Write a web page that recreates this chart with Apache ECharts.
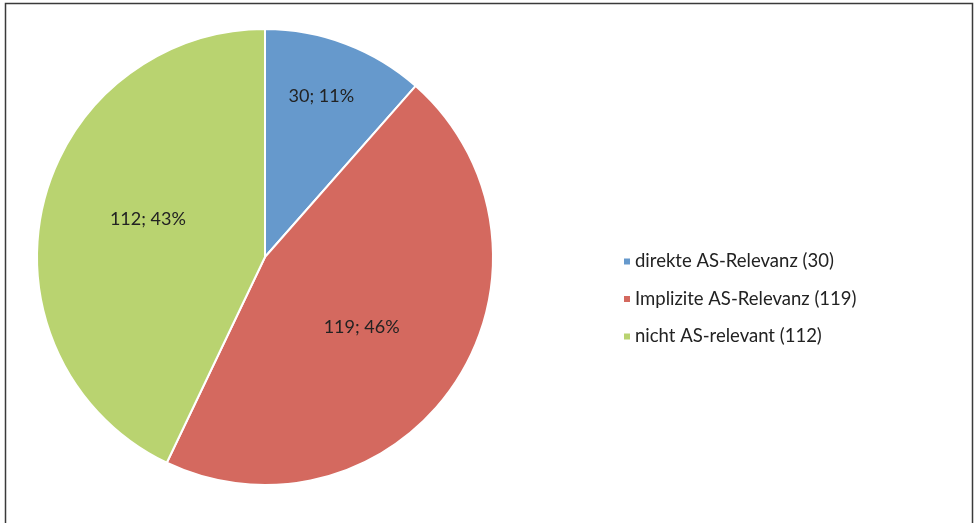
<!DOCTYPE html>
<html>
<head>
<meta charset="utf-8">
<script src="https://cdn.jsdelivr.net/npm/echarts@6/dist/echarts.min.js"></script>
<style>
  html, body { margin: 0; padding: 0; background: #fff; }
  #chart { width: 978px; height: 523px; }
</style>
</head>
<body>
<div id="chart"></div>
<script>
// data
var categories = ['direkte AS-Relevanz', 'Implizite AS-Relevanz', 'nicht AS-relevant'];
var values = [30, 119, 112];
var colors = ['#6699CC', '#D4695F', '#B9D370'];
// shift of each slice label from its default inside spot (Excel puts them a bit off)
var labelShift = [[15, -51], [-1, 6], [-3, -12]];

var total = values.reduce(function (a, b) { return a + b; }, 0);

var chart = echarts.init(document.getElementById('chart'));
var option = {
    backgroundColor: '#fff',
    animation: false,
    graphic: [
        {
            type: 'rect',
            shape: { x: 5.5, y: 3.5, width: 967, height: 540 },
            style: { fill: 'none', stroke: '#3a3a3a', lineWidth: 1.5 },
            silent: true
        }
    ],
    legend: {
        orient: 'vertical',
        left: 617,
        top: 247,
        itemWidth: 8,
        itemHeight: 8,
        itemGap: 18.5,
        icon: 'rect',
        data: categories,
        formatter: function (name) {
            return name + ' (' + values[categories.indexOf(name)] + ')';
        },
        textStyle: { fontFamily: 'Lato', fontSize: 18.5, color: '#222', padding: [0, 0, 0, -1] }
    },
    series: [
        {
            type: 'pie',
            center: [265, 257],
            radius: 228,
            startAngle: 90,
            clockwise: true,
            avoidLabelOverlap: false,
            itemStyle: { borderColor: '#fff', borderWidth: 2 },
            label: {
                show: true,
                position: 'inside',
                fontFamily: 'Lato',
                fontSize: 18,
                color: '#222',
                formatter: function (p) {
                    return p.value + '; ' + Math.round(p.value / total * 100) + '%';
                }
            },
            labelLayout: function (p) {
                var s = labelShift[p.dataIndex];
                return { dx: s[0], dy: s[1] };
            },
            emphasis: { disabled: true },
            data: categories.map(function (c, i) {
                return { name: c, value: values[i], itemStyle: { color: colors[i] } };
            })
        }
    ]
};
chart.setOption(option);
window.addEventListener('resize', function () {
    chart.resize();
});
</script>
</body>
</html>
